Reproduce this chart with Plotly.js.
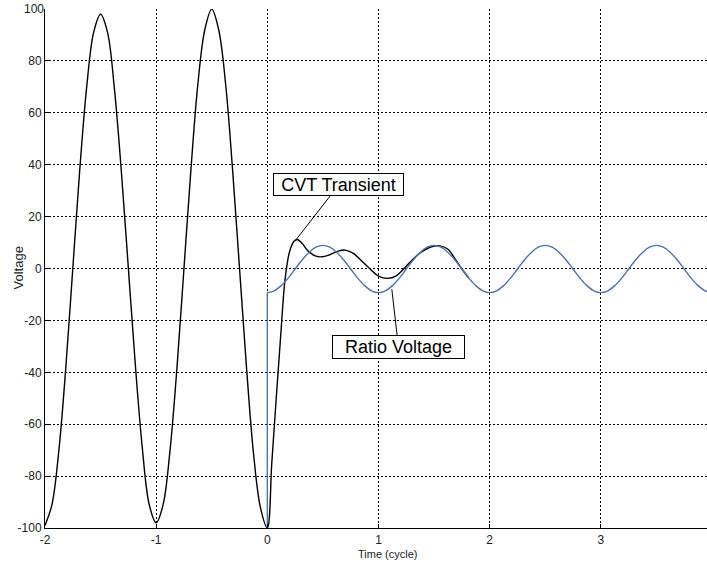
<!DOCTYPE html>
<html>
<head>
<meta charset="utf-8">
<script src="https://cdn.plot.ly/plotly-3.0.1.min.js"></script>
<style>
html, body { margin: 0; padding: 0; overflow: hidden; background: #fff; }
#chart { width: 712px; height: 563px; }
</style>
</head>
<body>
<div id="chart"></div>
<script>
// Pre-fault primary voltage (black), time in cycles
const tPre = [-2, -1.9375, -1.875, -1.8125, -1.75, -1.6875, -1.625, -1.5625, -1.5, -1.4375, -1.375, -1.3125, -1.25, -1.1875, -1.125, -1.0625, -1,
  -0.9375, -0.875, -0.8125, -0.75, -0.6875, -0.625, -0.5625, -0.5, -0.4375, -0.375, -0.3125, -0.25, -0.1875, -0.125, -0.0625];
const vPre = [-99, -91, -70, -38, 0, 38, 70, 91, 98, 91, 69, 37, 0, -37, -69, -91, -98,
  -91, -70, -38, 0, 38, 71, 92, 100, 92, 71, 38, 0, -38, -71, -92];

// CVT transient output (black) after the fault
const tPost = [0, 0.04, 0.08, 0.12, 0.16, 0.20, 0.24, 0.27, 0.31, 0.37, 0.43, 0.49, 0.56, 0.63, 0.70, 0.77, 0.84, 0.92,
  1.00, 1.08, 1.16, 1.23, 1.31, 1.39, 1.47, 1.55, 1.625, 1.6875, 1.75, 1.8125];
const vPost = [-100, -75, -50, -26, -4, 6.5, 10.5, 11.2, 9.8, 6.6, 4.9, 4.5, 5.3, 6.6, 7.1, 5.9, 3.3, 0,
  -2.9, -3.8, -2.8, 0, 3.6, 6.5, 8.3, 8.7, 7.4, 3.8, -0.2, -3.7];

// Ratio voltage (blue)
const tStep = [0, 0];
const vStep = [-100, -9.3];
const tRatio = [0, 0.0625, 0.125, 0.1875, 0.25, 0.3125, 0.375, 0.4375, 0.5, 0.5625, 0.625, 0.6875, 0.75, 0.8125, 0.875, 0.9375,
  1, 1.0625, 1.125, 1.1875, 1.25, 1.3125, 1.375, 1.4375, 1.5, 1.5625, 1.625, 1.6875, 1.75, 1.8125, 1.875, 1.9375,
  2, 2.0625, 2.125, 2.1875, 2.25, 2.3125, 2.375, 2.4375, 2.5, 2.5625, 2.625, 2.6875, 2.75, 2.8125, 2.875, 2.9375,
  3, 3.0625, 3.125, 3.1875, 3.25, 3.3125, 3.375, 3.4375, 3.5, 3.5625, 3.625, 3.6875, 3.75, 3.8125, 3.875, 3.9375, 4];
const vRatio = [-9.3, -8.6, -6.6, -3.7, -0.2, 3.3, 6.2, 8.2, 8.9, 8.2, 6.2, 3.3, -0.2, -3.7, -6.6, -8.6,
  -9.3, -8.6, -6.6, -3.7, -0.2, 3.3, 6.2, 8.2, 8.9, 8.2, 6.2, 3.3, -0.2, -3.7, -6.6, -8.6,
  -9.3, -8.6, -6.6, -3.7, -0.2, 3.3, 6.2, 8.2, 8.9, 8.2, 6.2, 3.3, -0.2, -3.7, -6.6, -8.6,
  -9.3, -8.6, -6.6, -3.7, -0.2, 3.3, 6.2, 8.2, 8.9, 8.2, 6.2, 3.3, -0.2, -3.7, -6.6, -8.6, -9.3];

const xTicks = [-2, -1, 0, 1, 2, 3, 4];
const yGridTicks = [-100, -80, -60, -40, -20, 0, 20, 40, 60, 80];
const yTopTick = [100];

const blue = '#4a72b0';
const traces = [
  { x: tPre.concat(tPost), y: vPre.concat(vPost), mode: 'lines', line: { color: '#000', width: 1.4, shape: 'spline', smoothing: 1 }, hoverinfo: 'skip' },
  { x: tStep, y: vStep, mode: 'lines', line: { color: blue, width: 1.4 }, hoverinfo: 'skip' },
  { x: tRatio, y: vRatio, mode: 'lines', line: { color: blue, width: 1.4, shape: 'spline', smoothing: 1 }, hoverinfo: 'skip' }
];

const fam = 'Liberation Sans, Arial, sans-serif';
const tickFont = { family: fam, size: 12, color: '#222' };
const layout = {
  width: 712, height: 563,
  margin: { l: 45, r: 0, t: 9, b: 35 },
  paper_bgcolor: '#fff', plot_bgcolor: '#fff',
  showlegend: false,
  font: tickFont,
  xaxis: {
    range: [-2, 4], tickvals: xTicks, ticktext: xTicks.map(String),
    showline: true, linecolor: '#000', linewidth: 1,
    ticks: 'inside', ticklen: 4, tickcolor: '#000',
    showgrid: true, gridcolor: '#000', gridwidth: 1, griddash: '2px,2px',
    zeroline: false, ticklabelstandoff: 1,
    tickfont: tickFont
  },
  yaxis: {
    range: [-100, 100], tickvals: yGridTicks, ticktext: yGridTicks.map(String),
    showline: true, linecolor: '#000', linewidth: 1,
    ticks: 'inside', ticklen: 4, tickcolor: '#000',
    showgrid: true, gridcolor: '#000', gridwidth: 1, griddash: '2px,2px',
    zeroline: false,
    tickfont: tickFont
  },
  yaxis2: {
    overlaying: 'y', side: 'left', anchor: 'x',
    range: [-100, 100], tickvals: yTopTick, ticktext: yTopTick.map(String),
    showline: false, ticks: 'inside', ticklen: 4, tickcolor: '#000',
    showgrid: false, zeroline: false,
    tickfont: tickFont
  },
  annotations: [
    { x: 0.26, y: 11.2, xref: 'x', yref: 'y', ax: 42.5, ay: -54.5, text: 'CVT Transient',
      showarrow: true, arrowhead: 0, arrowwidth: 1, arrowcolor: '#000', standoff: 0,
      bgcolor: '#fff', bordercolor: '#000', borderwidth: 1, borderpad: 1, width: 127, height: 19,
      font: { family: fam, size: 18, color: '#000' } },
    { x: 1.12, y: -8, xref: 'x', yref: 'y', ax: 6.6, ay: 57.8, text: 'Ratio Voltage',
      showarrow: true, arrowhead: 0, arrowwidth: 1, arrowcolor: '#000', standoff: 0,
      bgcolor: '#fff', bordercolor: '#000', borderwidth: 1, borderpad: 1, width: 129, height: 20,
      font: { family: fam, size: 18, color: '#000' } },
    { x: 1.08, y: 0, xref: 'paper', yref: 'paper', yshift: -26, yanchor: 'middle', xanchor: 'center',
      text: 'Time (cycle)', showarrow: false, font: { family: fam, size: 11, color: '#222' } },
    { x: 0, y: 0, xref: 'paper', yref: 'y', xshift: -27, xanchor: 'center', yanchor: 'middle', textangle: -90,
      text: 'Voltage', showarrow: false, font: { family: fam, size: 13, color: '#222' } }
  ]
};
// x title sits at data x = 1.08
layout.annotations[2].xref = 'x';

// a phantom trace so yaxis2 is drawn
traces.push({ x: [null], y: [null], yaxis: 'y2', mode: 'lines', hoverinfo: 'skip' });

Plotly.newPlot('chart', traces, layout, { displayModeBar: false, staticPlot: true });
</script>
</body>
</html>
